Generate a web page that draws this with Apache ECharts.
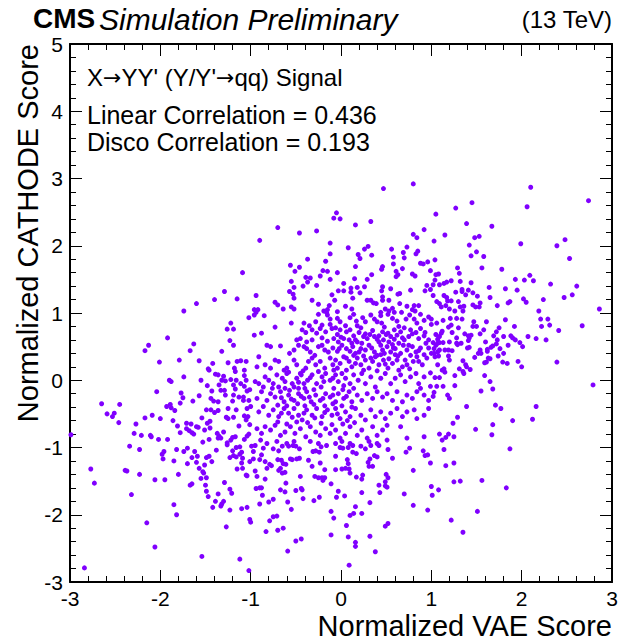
<!DOCTYPE html>
<html><head><meta charset="utf-8">
<script src="https://cdn.jsdelivr.net/npm/echarts@6/dist/echarts.min.js"></script>
<style>html,body{margin:0;padding:0;background:#fff}#c{width:621px;height:641px}</style>
</head><body><div id="c"></div>
<script>
const FONT = '"Liberation Sans", Arial, Helvetica, sans-serif';
const xRange = [-3, 3];
const yRange = [-3, 5];
const xTitle = 'Normalized VAE Score';
const yTitle = 'Normalized CATHODE Score';
const labelLines = ["{t|X}{a|\u2192}{t|YY' (Y/Y'}{a|\u2192}{t|qq) Signal}", 'Linear Correlation = 0.436', 'Disco Correlation = 0.193'];

// points, [VAE, CATHODE], grouped by region
const ptsUpperLeft = [[-1.74,1.03],[-1.60,1.14],[-1.40,1.20],[-1.29,1.32],[-1.15,1.21],[-1.09,1.60]];
const ptsUpperMid = [[0.47,2.85],[0.80,2.92],[-0.05,2.49],[-0.08,2.41],[-0.01,2.40],[0.33,2.36],[-0.70,2.27],[-0.27,2.22],[-0.46,2.19],[0.16,2.31],[-0.90,2.08],[0.92,2.24],[0.80,2.17],[0.84,2.12],[-0.12,2.04],[0.08,1.97],[0.30,1.99],[0.26,1.95],[-0.12,1.88],[0.19,1.87],[0.21,1.81],[0.34,1.86],[-0.37,1.80],[-0.17,1.77],[-0.56,1.71],[-0.46,1.68],[-0.51,1.62],[-0.20,1.63],[-0.15,1.62],[-0.04,1.60],[0.16,1.69],[0.56,1.95],[0.73,1.98],[0.69,1.90],[0.85,1.92],[0.83,1.88],[0.70,1.82],[0.58,1.83],[0.58,1.73],[0.46,1.69],[0.45,1.65],[0.61,1.62],[0.63,1.57],[0.61,1.54],[0.68,1.66],[0.88,1.74],[0.91,1.73],[0.96,1.76],[0.79,1.58],[0.82,1.55],[0.99,1.63],[-0.39,1.53],[-0.34,1.52],[-0.23,1.55],[-0.12,1.50],[0.15,1.51],[0.29,1.50],[0.34,1.57],[-0.55,1.47],[-0.37,1.46],[-0.42,1.40],[-0.27,1.41],[0.03,1.44],[-0.52,1.38],[-0.57,1.32],[-0.53,1.28],[-0.52,1.22],[-0.94,1.26],[-0.73,1.16],[-0.70,1.12],[-0.64,1.06],[-0.55,1.09],[-0.52,1.06],[-0.32,1.19],[-0.25,1.13],[-0.10,1.27],[-0.07,1.19],[-0.13,1.11],[-0.19,1.03],[-0.15,1.05],[-0.16,1.01],[-0.04,1.02],[0.03,1.33],[0.11,1.37],[0.18,1.38],[0.26,1.39],[0.11,1.31],[0.21,1.30],[0.13,1.22],[0.05,1.10],[0.12,1.06],[0.29,1.19],[0.33,1.19],[0.36,1.15],[0.39,1.14],[0.46,1.39],[0.45,1.33],[0.55,1.36],[0.46,1.24],[0.46,1.19],[0.53,1.19],[0.65,1.29],[0.63,1.28],[0.65,1.14],[0.57,1.07],[0.53,1.03],[0.44,1.01],[0.49,1.06],[0.59,1.01],[0.67,1.01],[0.81,1.11],[0.86,1.11],[0.73,1.10],[0.79,1.05],[0.82,1.03],[0.77,1.34],[0.95,1.41],[0.93,1.33],[0.99,1.35],[-0.96,1.05],[-0.92,1.05],[-0.94,1.01],[-0.03,1.33]];
const ptsUpperRight = [[2.10,2.87],[2.74,2.67],[1.45,2.64],[1.27,2.56],[2.06,2.58],[1.05,2.47],[1.39,2.33],[1.67,2.29],[1.15,2.16],[1.48,2.12],[1.53,2.14],[1.03,2.07],[1.99,2.03],[1.42,2.01],[2.39,2.00],[2.48,2.09],[1.50,1.91],[1.44,1.85],[1.58,1.84],[1.04,1.79],[2.53,1.81],[1.29,1.67],[1.56,1.67],[1.78,1.65],[1.31,1.59],[1.08,1.58],[1.05,1.57],[1.04,1.49],[2.09,1.56],[1.93,1.50],[2.03,1.49],[2.13,1.48],[1.02,1.42],[1.09,1.42],[1.14,1.44],[1.17,1.46],[1.22,1.48],[1.32,1.47],[1.44,1.45],[1.64,1.38],[1.82,1.36],[1.95,1.34],[2.32,1.43],[2.61,1.40],[1.02,1.26],[1.14,1.26],[1.17,1.23],[1.27,1.31],[1.34,1.35],[1.34,1.32],[1.41,1.34],[1.46,1.30],[1.51,1.25],[1.65,1.23],[1.38,1.27],[1.06,1.17],[1.09,1.14],[1.11,1.09],[1.18,1.18],[1.22,1.18],[1.30,1.17],[2.02,1.21],[2.05,1.16],[2.24,1.20],[2.47,1.23],[2.56,1.27],[1.87,1.17],[1.85,1.15],[1.54,1.15],[1.46,1.12],[1.53,1.09],[1.49,1.09],[1.36,1.10],[1.32,1.09],[1.16,1.11],[1.20,1.06],[1.26,1.03],[1.35,1.03],[1.73,1.11],[2.19,1.03],[2.86,1.06]];
const ptsMidLeft = [[-1.22,0.85],[-1.26,0.76],[-1.19,0.76],[-1.02,0.93],[-1.23,0.59],[-1.19,0.52],[-1.92,0.63],[-2.13,0.52],[-2.17,0.44],[-1.63,0.54],[-1.67,0.44],[-2.01,0.27],[-1.79,0.30],[-1.57,0.29],[-1.42,0.25],[-1.32,0.43],[-1.25,0.26],[-1.15,0.28],[-1.11,0.29],[-1.05,0.28],[-1.18,0.18],[-1.17,0.13],[-1.07,0.15],[-1.47,0.17],[-1.46,0.15],[-1.39,0.09],[-1.36,0.08],[-1.30,0.06],[-1.35,-0.07],[-1.32,0.00],[-1.28,-0.01],[-1.22,0.01],[-1.16,0.00],[-1.07,0.07],[-1.05,0.00],[-1.19,-0.07],[-1.17,-0.13],[-1.11,-0.05],[-1.07,-0.09],[-1.04,-0.16],[-1.01,-0.14],[-1.90,0.00],[-1.88,-0.02],[-1.74,0.05],[-1.55,0.00],[-1.48,-0.08],[-2.04,-0.17],[-1.77,-0.19],[-1.75,-0.26],[-1.57,-0.23],[-1.64,-0.31],[-1.44,-0.27],[-1.41,-0.31],[-1.33,-0.15],[-1.29,-0.15],[-1.28,-0.22],[-1.19,-0.22],[-1.13,-0.25],[-1.08,-0.25],[-1.08,-0.30],[-1.02,-0.30],[-1.43,-0.16],[-1.36,-0.32],[-1.20,-0.31],[-2.65,-0.35],[-2.45,-0.36],[-2.59,-0.50],[-2.51,-0.49],[-2.53,-0.54],[-2.46,-0.63],[-2.17,-0.56],[-2.09,-0.52],[-2.00,-0.57],[-1.93,-0.39],[-1.89,-0.36],[-1.88,-0.41],[-1.84,-0.45],[-1.78,-0.34],[-1.86,-0.60],[-1.81,-0.68],[-1.49,-0.44],[-1.44,-0.44],[-1.40,-0.48],[-1.36,-0.45],[-1.25,-0.42],[-1.16,-0.44],[-1.04,-0.42],[-1.00,-0.39],[-1.54,-0.56],[-1.48,-0.64],[-1.45,-0.61],[-1.27,-0.55],[-1.25,-0.57],[-1.19,-0.55],[-1.07,-0.53],[-1.03,-0.54],[-1.05,-0.59],[-1.01,-0.66],[-1.13,-0.68],[-2.27,-0.65],[-2.29,-0.79],[-2.21,-0.82],[-2.11,-0.82],[-2.10,-0.84],[-2.02,-0.88],[-1.92,-0.88],[-1.78,-0.78],[-1.71,-0.64],[-1.66,-0.65],[-1.71,-0.72],[-1.68,-0.75],[-1.65,-0.78],[-1.63,-0.80],[-1.60,-0.69],[-1.58,-0.70],[-1.51,-0.74],[-1.45,-0.71],[-1.35,-0.83],[-1.36,-0.86],[-1.33,-0.86],[-1.37,-0.79],[-1.30,-0.77],[-1.26,-0.93],[-1.20,-0.85],[-1.17,-0.84],[-1.22,-0.89],[-1.07,-0.88],[-1.04,-0.83],[-1.02,-0.80],[-1.53,-0.92],[-1.46,-0.88],[-2.99,-0.81]];
const ptsCenter = [[-0.96,0.97],[-0.85,0.96],[-0.25,0.98],[-0.15,0.97],[-0.12,0.91],[-0.04,0.92],[0.10,0.93],[0.14,0.98],[0.17,0.88],[0.24,0.93],[0.27,0.87],[0.33,0.97],[0.37,0.91],[0.40,0.87],[0.44,0.96],[0.45,0.85],[0.52,0.98],[0.57,0.92],[0.62,0.88],[0.72,0.91],[0.76,0.97],[0.81,0.91],[0.84,0.85],[0.92,0.89],[0.97,0.94],[0.88,0.98],[-0.41,0.85],[-0.35,0.81],[-0.28,0.87],[-0.21,0.82],[-0.12,0.83],[-0.01,0.87],[0.05,0.81],[0.18,0.81],[-0.55,0.85],[-0.73,0.79],
[-0.96,0.67],[-0.88,0.70],[-0.43,0.75],[-0.39,0.71],[-0.32,0.75],[-0.27,0.70],[-0.23,0.77],[-0.17,0.72],[-0.10,0.77],[-0.04,0.68],[-0.01,0.75],[0.10,0.75],[0.14,0.66],[0.20,0.71],[0.25,0.65],[0.29,0.62],[0.32,0.68],[0.37,0.65],[0.42,0.66],[0.46,0.72],[0.50,0.68],[0.55,0.65],[0.59,0.75],[0.62,0.67],[0.66,0.72],[0.70,0.78],[0.77,0.75],[0.83,0.71],[0.88,0.77],[0.92,0.66],[0.97,0.60],[-0.49,0.60],[-0.45,0.62],[-0.38,0.57],[-0.32,0.60],[-0.21,0.63],[-0.15,0.58],[-0.08,0.62],[-0.03,0.57],[0.03,0.62],[0.09,0.60],[0.12,0.55],[0.18,0.57],[0.23,0.55],[0.42,0.57],[0.47,0.60],[0.53,0.57],[0.59,0.61],[0.64,0.55],[0.70,0.60],[0.75,0.65],
[-0.82,0.52],[-0.78,0.50],[-0.67,0.51],[-0.57,0.40],[-0.52,0.45],[-0.47,0.52],[-0.41,0.50],[-0.38,0.47],[-0.34,0.42],[-0.29,0.37],[-0.25,0.50],[-0.21,0.52],[-0.18,0.45],[-0.14,0.42],[-0.09,0.48],[-0.04,0.43],[0.01,0.52],[0.06,0.47],[0.10,0.43],[0.16,0.40],[0.22,0.47],[0.27,0.45],[0.31,0.52],[0.37,0.42],[0.40,0.37],[0.46,0.45],[0.51,0.50],[0.55,0.42],[0.60,0.47],[0.66,0.40],[0.69,0.52],[0.73,0.45],[0.79,0.50],[0.83,0.42],[0.88,0.48],[0.94,0.55],[-0.91,0.35],
[-0.93,0.20],[-0.84,0.23],[-0.78,0.18],[-0.73,0.30],[-0.69,0.28],[-0.63,0.15],[-0.60,0.18],[-0.52,0.30],[-0.49,0.23],[-0.45,0.10],[-0.39,0.18],[-0.36,0.28],[-0.32,0.33],[-0.28,0.23],[-0.23,0.28],[-0.18,0.18],[-0.12,0.33],[-0.09,0.23],[-0.06,0.30],[-0.01,0.25],[0.03,0.35],[0.09,0.28],[0.12,0.20],[0.18,0.33],[0.22,0.23],[0.27,0.30],[0.31,0.18],[0.35,0.28],[0.38,0.35],[0.42,0.23],[0.47,0.30],[0.52,0.18],[0.57,0.25],[0.62,0.30],[0.68,0.20],[0.73,0.23],[0.80,0.28],[0.84,0.35],[0.90,0.23],[0.95,0.33],
[-0.95,-0.02],[-0.91,-0.05],[-0.84,0.05],[-0.80,0.00],[-0.75,-0.05],[-0.71,0.08],[-0.65,0.03],[-0.60,0.10],[-0.54,-0.05],[-0.49,0.03],[-0.44,0.08],[-0.41,-0.05],[-0.37,0.00],[-0.32,0.08],[-0.27,-0.05],[-0.21,0.05],[-0.17,0.10],[-0.12,0.00],[-0.06,0.08],[-0.03,-0.02],[0.01,0.10],[0.05,0.03],[0.10,-0.05],[0.14,0.08],[0.19,0.00],[0.23,0.10],[0.27,-0.05],[0.33,0.05],[0.38,-0.10],[0.44,0.03],[0.49,0.10],[0.55,-0.05],[0.60,0.03],[0.66,0.08],[0.71,-0.02],[0.77,0.05],[0.83,0.10],[0.86,-0.05],[0.92,0.05],[-0.86,-0.10],[-0.76,-0.12],[-0.69,-0.10],[-0.62,-0.12],[-0.52,-0.10],[-0.47,-0.12],
[-0.93,-0.27],[-0.88,-0.17],[-0.82,-0.30],[-0.78,-0.20],[-0.73,-0.25],[-0.67,-0.17],[-0.63,-0.32],[-0.58,-0.22],[-0.52,-0.30],[-0.47,-0.20],[-0.41,-0.27],[-0.38,-0.17],[-0.33,-0.32],[-0.28,-0.22],[-0.23,-0.30],[-0.17,-0.20],[-0.12,-0.25],[-0.06,-0.32],[-0.03,-0.20],[0.03,-0.27],[0.09,-0.17],[0.12,-0.32],[0.18,-0.22],[0.23,-0.30],[0.29,-0.20],[0.35,-0.27],[0.40,-0.17],[0.46,-0.25],[0.51,-0.20],[0.57,-0.30],[0.62,-0.17],[0.68,-0.32],[0.73,-0.22],[0.79,-0.27],[0.84,-0.17],[0.88,-0.12],[0.92,-0.22],[0.97,-0.30],
[-0.91,-0.47],[-0.86,-0.39],[-0.80,-0.52],[-0.75,-0.44],[-0.69,-0.54],[-0.63,-0.42],[-0.58,-0.49],[-0.52,-0.42],[-0.47,-0.52],[-0.43,-0.59],[-0.38,-0.44],[-0.32,-0.52],[-0.27,-0.42],[-0.21,-0.54],[-0.15,-0.44],[-0.10,-0.52],[-0.06,-0.42],[-0.01,-0.57],[0.05,-0.47],[0.10,-0.54],[0.16,-0.42],[0.22,-0.52],[0.27,-0.59],[0.33,-0.44],[0.38,-0.54],[0.44,-0.47],[0.49,-0.57],[0.55,-0.49],[0.62,-0.42],[0.68,-0.54],[0.73,-0.47],[0.81,-0.44],[0.84,-0.57],[0.92,-0.52],[0.97,-0.42],
[-0.93,-0.72],[-0.88,-0.79],[-0.84,-0.69],[-0.78,-0.74],[-0.73,-0.67],[-0.67,-0.82],[-0.62,-0.77],[-0.56,-0.69],[-0.51,-0.79],[-0.45,-0.72],[-0.39,-0.84],[-0.34,-0.69],[-0.28,-0.77],[-0.23,-0.82],[-0.17,-0.72],[-0.12,-0.79],[-0.06,-0.74],[-0.01,-0.86],[0.05,-0.79],[0.10,-0.69],[0.18,-0.82],[0.23,-0.74],[0.29,-0.86],[0.35,-0.69],[0.40,-0.82],[0.46,-0.74],[0.51,-0.67],[0.66,-0.69],[0.73,-0.86],[0.92,-0.84],[-0.89,-0.89],[-0.82,-0.94],[-0.71,-0.91],[-0.60,-0.94],[-0.52,-0.91],[-0.34,-0.91],[-0.25,-0.94],[-0.06,-0.94],[0.01,-0.91],[0.10,-0.94],[0.31,-0.91],[0.40,-0.94],[0.51,-0.89]];
const ptsCenterDense = [[-0.06,0.78],[0.06,0.72],[0.22,0.78],[0.35,0.74],[0.48,0.79],[0.64,0.80],[0.79,0.69],
[0.00,0.64],[0.16,0.60],[0.27,0.69],[0.40,0.61],[0.52,0.70],[0.57,0.53],[0.68,0.63],[0.86,0.62],[0.93,0.71],
[-0.02,0.47],[0.13,0.50],[0.20,0.42],[0.34,0.48],[0.44,0.52],[0.48,0.40],[0.58,0.48],[0.63,0.36],[0.75,0.52],[0.86,0.44],[0.97,0.48],
[0.06,0.33],[0.14,0.37],[0.25,0.36],[0.33,0.33],[0.44,0.38],[0.53,0.32],[0.60,0.38],[0.71,0.30],[0.77,0.37],[0.92,0.38],
[-0.04,0.18],[0.06,0.15],[0.16,0.25],[0.25,0.15],[0.40,0.14],[0.49,0.24],[0.64,0.15],[0.76,0.17],[0.86,0.28],
[-0.58,0.12],[-0.42,0.14],[-0.25,0.13],[-0.08,0.15],
[-0.62,-0.02],[-0.47,-0.03],[-0.34,0.04],[-0.19,-0.02],[-0.09,0.03],[0.03,-0.08],
[-0.57,-0.15],[-0.40,-0.12],[-0.30,-0.14],[-0.22,-0.10],[-0.08,-0.12],[0.02,-0.14],[0.14,-0.12],
[-0.66,-0.26],[-0.55,-0.28],[-0.44,-0.24],[-0.35,-0.25],[-0.20,-0.27],[-0.09,-0.22],[0.06,-0.24],
[-0.70,-0.37],[-0.60,-0.38],[-0.48,-0.35],[-0.40,-0.38],[-0.30,-0.36],[-0.18,-0.38],[-0.09,-0.35],[0.01,-0.38],[0.12,-0.40],
[-0.66,-0.49],[-0.54,-0.55],[-0.41,-0.49],[-0.29,-0.56],[-0.18,-0.48],[-0.04,-0.50],[0.07,-0.60],
[-0.70,-0.62],[-0.60,-0.65],[-0.49,-0.62],[-0.37,-0.63],[-0.22,-0.64],[-0.10,-0.66],[0.02,-0.65],[0.15,-0.63]];
const ptsMidRight = [[1.00,0.91],[1.06,0.85],[1.00,0.83],[1.13,0.89],[1.21,0.92],[1.28,0.92],[1.34,0.91],[1.22,0.82],[1.19,0.79],[1.30,0.78],[1.47,0.87],[1.46,0.80],[1.50,0.80],[1.61,0.87],[1.82,0.90],[2.21,0.91],[2.29,0.91],[2.22,0.80],[2.31,0.82],[2.67,0.81],[2.41,0.74],[1.92,0.80],[1.75,0.78],[1.72,0.72],[1.58,0.75],[1.12,0.73],[1.11,0.70],[1.05,0.68],[1.09,0.65],[1.23,0.71],[1.37,0.69],[1.41,0.66],[1.44,0.67],[1.42,0.63],[1.41,0.59],[1.54,0.69],[1.69,0.66],[1.80,0.65],[1.88,0.66],[1.90,0.63],[1.93,0.60],[1.98,0.56],[2.01,0.50],[2.07,0.65],[2.16,0.62],[2.27,0.60],[1.85,0.52],[1.73,0.60],[1.60,0.57],[1.66,0.49],[1.68,0.51],[1.72,0.54],[1.02,0.56],[1.07,0.61],[1.07,0.55],[1.09,0.56],[1.13,0.56],[1.20,0.57],[1.28,0.55],[1.33,0.55],[1.05,0.52],[1.03,0.47],[1.00,0.40],[1.03,0.40],[1.07,0.42],[1.09,0.45],[1.15,0.45],[1.19,0.45],[1.23,0.44],[1.08,0.36],[1.19,0.36],[1.04,0.35],[1.20,0.30],[1.28,0.63],[1.29,0.53],[1.40,0.48],[1.42,0.49],[1.54,0.45],[1.55,0.40],[1.48,0.34],[1.52,0.40],[1.62,0.46],[1.62,0.43],[1.63,0.33],[1.59,0.26],[1.61,0.27],[1.65,0.32],[1.76,0.47],[1.80,0.40],[1.74,0.36],[1.79,0.27],[1.84,0.25],[1.96,0.28],[2.00,0.20],[1.35,0.29],[1.38,0.23],[1.39,0.20],[1.43,0.16],[1.35,0.13],[1.36,0.10],[1.31,0.17],[1.12,0.15],[1.14,0.17],[1.15,0.12],[1.07,0.23],[0.99,0.11],[1.04,0.04],[1.09,0.04],[1.26,0.07],[1.59,0.07],[1.65,-0.02],[1.68,-0.13],[1.55,-0.16],[0.99,-0.09],[1.06,-0.09],[1.13,-0.09],[1.26,-0.08],[1.03,-0.18],[1.02,-0.24],[1.18,-0.22],[1.20,-0.27],[1.39,-0.39],[1.71,-0.37],[1.77,-0.42],[2.16,-0.39],[2.39,0.27],[2.79,-0.07],[1.29,-0.55],[1.24,-0.64],[1.90,-0.60],[2.12,-0.58],[1.68,-0.66],[1.49,-0.73],[1.67,-0.81],[1.09,-0.80],[1.16,-0.85],[1.19,-0.80],[1.25,-0.84],[1.12,-0.89]];
const ptsLowerLeft = [[-2.34,-0.98],[-2.23,-1.03],[-1.96,-1.06],[-1.98,-1.10],[-1.97,-1.17],[-1.82,-1.03],[-1.70,-1.01],[-1.74,-1.06],[-1.62,-1.06],[-1.59,-1.13],[-1.65,-1.15],[-1.70,-1.24],[-1.60,-1.22],[-1.57,-1.31],[-1.53,-1.36],[-1.52,-1.38],[-1.51,-1.26],[-1.49,-1.15],[-1.46,-1.13],[-1.43,-1.21],[-1.38,-1.04],[-1.26,-0.96],[-1.20,-1.05],[-1.16,-1.00],[-1.12,-0.99],[-1.10,-1.07],[-1.23,-1.15],[-1.19,-1.12],[-1.16,-1.14],[-1.12,-1.10],[-1.09,-1.16],[-1.10,-1.23],[-1.01,-1.21],[-1.15,-1.32],[-1.09,-1.31],[-1.05,-1.41],[-1.04,-1.42],[-2.77,-1.32],[-2.73,-1.53],[-2.39,-1.34],[-2.37,-1.35],[-2.23,-1.40],[-2.06,-1.48],[-1.95,-1.48],[-1.85,-1.20],[-1.80,-1.40],[-1.67,-1.56],[-1.65,-1.54],[-1.55,-1.46],[-1.49,-1.45],[-1.50,-1.56],[-1.49,-1.65],[-1.47,-1.73],[-1.36,-1.69],[-1.29,-1.52],[-1.23,-1.62],[-1.21,-1.68],[-1.39,-1.80],[-1.30,-1.80],[-1.32,-1.84],[-1.33,-1.87],[-1.42,-1.89],[-1.23,-1.93],[-1.10,-1.91],[-1.04,-1.89],[-1.01,-2.07],[-1.00,-2.11],[-1.27,-2.18],[-2.32,-1.70],[-1.85,-1.85],[-1.82,-2.00],[-2.15,-2.12],[-2.06,-2.48],[-1.54,-2.62],[-1.12,-2.66],[-2.84,-2.79],[-1.02,-2.83]];
const ptsLowerMid = [[-0.99,-0.98],[-0.95,-0.97],[-0.97,-1.06],[-0.86,-1.01],[-0.75,-1.02],[-0.69,-1.05],[-0.65,-0.98],[-0.58,-0.98],[-0.53,-0.97],[-0.50,-0.98],[-0.46,-1.02],[-0.31,-1.06],[-0.28,-1.05],[-0.22,-0.99],[-0.24,-1.07],[-0.16,-0.97],[-0.01,-1.00],[0.02,-1.01],[0.08,-1.00],[0.13,-0.97],[0.13,-1.07],[0.17,-1.09],[0.22,-0.98],[0.27,-1.02],[0.33,-0.97],[0.42,-0.97],[0.52,-1.03],[0.72,-1.07],[0.76,-1.01],[0.91,-1.05],[0.93,-1.12],[0.96,-1.11],[0.99,-1.23],[-0.97,-1.17],[-0.90,-1.18],[-0.88,-1.11],[-0.84,-1.21],[-0.79,-1.25],[-0.77,-1.27],[-0.82,-1.31],[-0.70,-1.18],[-0.66,-1.19],[-0.64,-1.24],[-0.61,-1.25],[-0.67,-1.31],[-0.69,-1.34],[-0.65,-1.38],[-0.62,-1.37],[-0.56,-1.17],[-0.54,-1.18],[-0.49,-1.17],[-0.46,-1.16],[-0.36,-1.19],[-0.32,-1.28],[-0.29,-1.43],[-0.25,-1.45],[-0.21,-1.45],[-0.18,-1.45],[-0.20,-1.49],[-0.18,-1.33],[-0.23,-1.23],[-0.06,-1.13],[0.07,-1.18],[0.08,-1.24],[0.05,-1.31],[0.09,-1.32],[0.10,-1.38],[-0.06,-1.33],[0.01,-1.32],[0.17,-1.44],[0.24,-1.41],[0.23,-1.47],[0.32,-1.17],[0.30,-1.22],[0.31,-1.28],[0.35,-1.28],[0.37,-1.12],[0.40,-1.14],[0.57,-1.16],[-0.95,-1.35],[-0.93,-1.43],[-0.84,-1.47],[-0.94,-1.61],[-0.90,-1.60],[-0.88,-1.60],[-0.87,-1.71],[-0.90,-1.84],[-0.80,-1.81],[-0.75,-1.77],[-0.67,-1.63],[-0.62,-1.66],[-0.61,-1.53],[-0.59,-1.81],[-0.55,-1.92],[-0.50,-1.64],[-0.44,-1.61],[-0.43,-1.63],[-0.45,-1.43],[-0.42,-1.76],[-0.30,-1.79],[-0.24,-1.74],[-0.11,-1.54],[-0.03,-1.65],[-0.05,-1.74],[0.04,-1.72],[-0.11,-1.95],[-0.08,-2.05],[0.10,-2.01],[0.14,-1.98],[0.16,-1.88],[0.23,-1.98],[0.23,-1.67],[0.32,-1.82],[0.42,-1.56],[0.43,-1.67],[0.49,-1.51],[0.49,-1.57],[0.51,-1.59],[0.50,-1.40],[0.52,-1.45],[0.70,-1.69],[0.80,-1.34],[0.80,-1.86],[0.96,-1.93],[1.00,-1.58],[-0.79,-2.09],[-0.75,-2.03],[-0.71,-2.02],[-0.83,-2.25],[-0.70,-2.23],[-0.64,-2.20],[-0.50,-2.39],[-0.44,-2.36],[-0.59,-2.54],[-0.11,-2.30],[0.06,-2.16],[0.08,-2.33],[0.16,-2.41],[0.16,-2.47],[0.32,-2.32],[0.38,-2.55],[0.49,-2.17],[0.52,-2.13],[0.09,-2.75]];
const ptsLowerRight = [[1.14,-1.03],[1.87,-1.02],[1.16,-1.27],[1.25,-1.23],[1.25,-1.51],[1.32,-1.50],[1.56,-1.49],[1.08,-1.63],[1.01,-1.71],[1.83,-1.60],[1.51,-1.95],[1.22,-2.08],[1.35,-2.26]];

const signalPoints = [].concat(ptsUpperLeft, ptsUpperMid, ptsUpperRight, ptsMidLeft, ptsCenter, ptsCenterDense, ptsMidRight, ptsLowerLeft, ptsLowerMid, ptsLowerRight);

const chart = echarts.init(document.getElementById('c'), null, {renderer: 'svg'});

function axisCommon(showLabel) {
  return {
    axisLine: {show: true, onZero: false, lineStyle: {color: '#000', width: 2}},
    axisTick: {show: true, inside: true, length: 12, lineStyle: {color: '#000', width: 1}},
    minorTick: {show: true, splitNumber: 5, length: 6, lineStyle: {color: '#000', width: 1}},
    splitLine: {show: false},
    axisLabel: {show: showLabel, fontSize: 21, lineHeight: 18, color: '#000', fontFamily: FONT, margin: 7}
  };
}
function xAx(pos, showLabel) {
  return Object.assign({type: 'value', min: xRange[0], max: xRange[1], interval: 1, position: pos}, axisCommon(showLabel));
}
function yAx(pos, showLabel) {
  const a = Object.assign({type: 'value', min: yRange[0], max: yRange[1], interval: 1, position: pos}, axisCommon(showLabel));
  a.axisLabel.padding = [3, 0, 0, 0];
  return a;
}

function txt(x, y, text, size, align, extra, weight, style) {
  return Object.assign({
    type: 'text', x: x, y: y, silent: true,
    style: {text: text, fontFamily: FONT, fontSize: size, fontWeight: weight || 'normal', fontStyle: style || 'normal',
            lineHeight: size - 5, fill: '#000', align: align || 'left', verticalAlign: 'middle'}
  }, extra || {});
}

const signalLabel = txt(87, 77, labelLines[0], 24);
signalLabel.style.rich = {
  t: {fontFamily: FONT, fontSize: 24, fill: '#000', lineHeight: 22},
  a: {fontFamily: '"DejaVu Sans", sans-serif', fontSize: 22, fill: '#000', lineHeight: 22}
};

chart.setOption({
  animation: false,
  backgroundColor: '#fff',
  grid: {left: 70, right: 9, top: 44, bottom: 59, containLabel: false},
  xAxis: [xAx('bottom', true), xAx('top', false)],
  yAxis: [yAx('left', true), yAx('right', false)],
  series: [{
    type: 'scatter', xAxisIndex: 0, yAxisIndex: 0,
    data: signalPoints, symbol: 'circle', symbolSize: 5,
    itemStyle: {color: '#8000ff', opacity: 1}
  }],
  graphic: [
    txt(33, 18, 'CMS', 28, 'left', null, 'bold'),
    txt(99, 19, 'Simulation Preliminary', 30, 'left', null, 'normal', 'italic'),
    txt(612, 19, '(13 TeV)', 24, 'right'),
    signalLabel,
    txt(87, 115, labelLines[1], 25),
    txt(87, 142, labelLines[2], 25),
    txt(612, 626, xTitle, 29, 'right'),
    txt(28, 44, yTitle, 29, 'right', {rotation: Math.PI / 2})
  ]
});
</script>
</body></html>
